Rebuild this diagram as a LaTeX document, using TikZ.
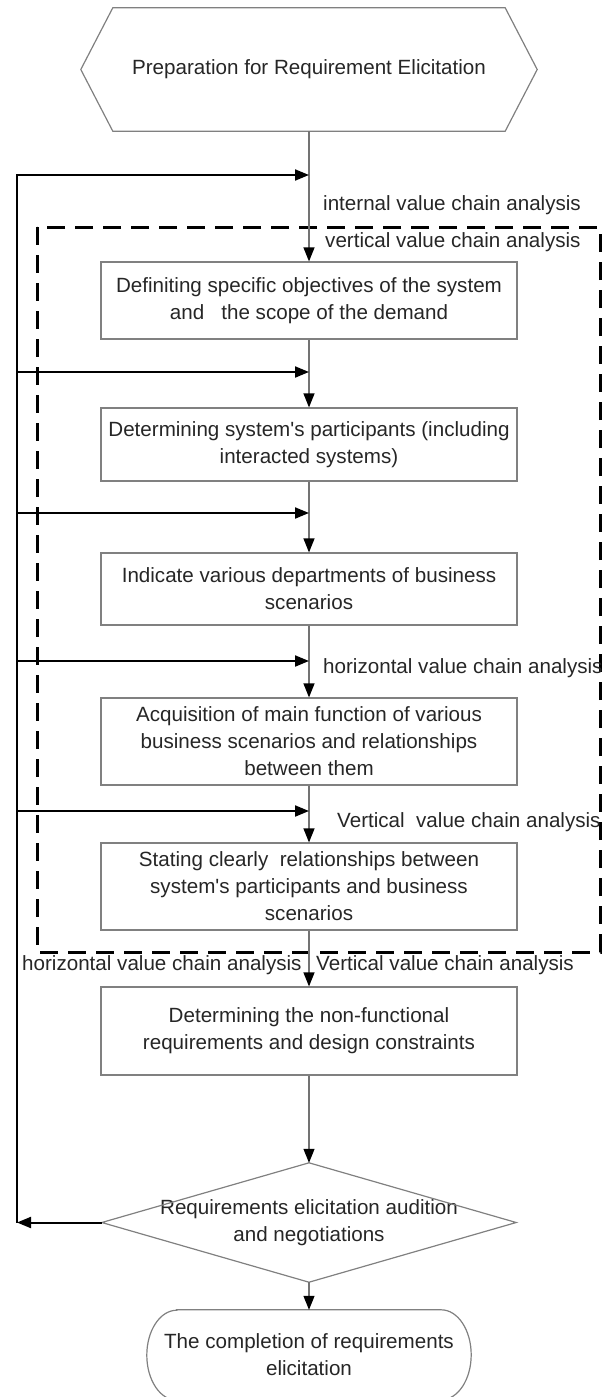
\documentclass[tikz,border=0pt]{standalone}
\usepackage{fontspec}
\setmainfont{Liberation Sans}
\usetikzlibrary{arrows.meta}

\begin{document}
\begin{tikzpicture}[x=1pt,y=-1pt]
    \tikzstyle{every node}=[font=\fontsize{20.6}{27}\selectfont, align=center, text=black!85]
    \tikzstyle{box}=[draw=black!50, line width=1.2pt, minimum width=416pt, inner sep=0pt]
    \tikzstyle{outline}=[draw=black!50, line width=1.2pt]
    \tikzstyle{flow}=[draw=black!55, line width=1.2pt, -{Triangle[length=14pt,width=11pt,color=black]}]
    \tikzstyle{back}=[draw=black, line width=2pt, -{Triangle[length=14pt,width=11pt]}]
    \tikzstyle{lbl}=[anchor=west, inner sep=0pt]

    \useasboundingbox (0,0) rectangle (610,1397);

    % start
    \node (prep) [minimum width=392pt, minimum height=123pt, inner sep=0pt] at (309,69.5) {Preparation for Requirement Elicitation};
    \draw[outline] (prep.north west) -- (prep.north east) -- ([xshift=32pt]prep.east) -- (prep.south east) -- (prep.south west) -- ([xshift=-32pt]prep.west) -- cycle;

    % steps
    \node[box, minimum height=77pt] (b1) at (309,300.5) {Definiting specific objectives of the system\\and\ \ \ the scope of the demand};
    \node[box, minimum height=73pt] (b2) at (309,444.5) {Determining system\textquotesingle s participants (including\\interacted systems)};
    \node[box, minimum height=72pt] (b3) at (309,589) {Indicate various departments of business\\scenarios};
    \node[box, minimum height=87pt] (b4) at (309,741.5) {Acquisition of main function of various\\business scenarios and relationships\\between them};
    \node[box, minimum height=87pt] (b5) at (309,886.5) {Stating clearly\ \ relationships between\\system\textquotesingle s participants and business\\scenarios};
    \node[box, minimum height=88pt] (b6) at (309,1031) {Determining the non-functional\\requirements and design constraints};

    % audit
    \node (check) [minimum width=414pt, minimum height=119pt, inner sep=0pt] at (309,1222.5) {Requirements elicitation audition\\and negotiations};
    \draw[outline] (check.north) -- (check.east) -- (check.south) -- (check.west) -- cycle;

    \node (done) [minimum width=324pt, minimum height=90pt, inner sep=0pt] at (309,1355) {The completion of requirements\\elicitation};
    \draw[outline] ([xshift=30pt]done.north west) -- ([xshift=-30pt]done.north east) arc[start angle=90, end angle=-90, x radius=30pt, y radius=45pt] -- ([xshift=30pt]done.south west) arc[start angle=270, end angle=90, x radius=30pt, y radius=45pt] -- cycle;

    % value chain area
    \draw[line width=3pt, dash pattern=on 18pt off 10pt] (37,227) rectangle (600,952);

    \node[lbl] (t1) at (323,205) {internal value chain analysis};
    \node[lbl] (t2) at (325,242) {vertical value chain analysis};
    \node[lbl] (t3) at (323,668) {horizontal value chain analysis};
    \node[lbl] (t4) at (337,822) {Vertical\ \ value chain analysis};
    \node[lbl] (t5) at (22,965) {horizontal value chain analysis};
    \node[lbl] (t6) at (316,965) {Vertical value chain analysis};

    % main flow
    \draw[flow] (prep) -- (b1);
    \draw[flow] (b1) -- (b2);
    \draw[flow] (b2) -- (b3);
    \draw[flow] (b3) -- (b4);
    \draw[flow] (b4) -- (b5);
    \draw[flow] (b5) -- (b6);
    \draw[flow] (b6) -- (check);
    \draw[flow] (check) -- (done);

    % feedback
    \coordinate (fb) at (17,1222.5);
    \coordinate (m0) at (309,175);
    \draw[back] (check.west) -- (fb);
    \draw[back] (fb) |- (m0);
    \foreach \y [count=\i] in {372,513,661,811} {
        \coordinate (l\i) at (17,\y);
        \coordinate (m\i) at (309,\y);
        \draw[back] (l\i) -- (m\i);
    }

\end{tikzpicture}
\end{document}
